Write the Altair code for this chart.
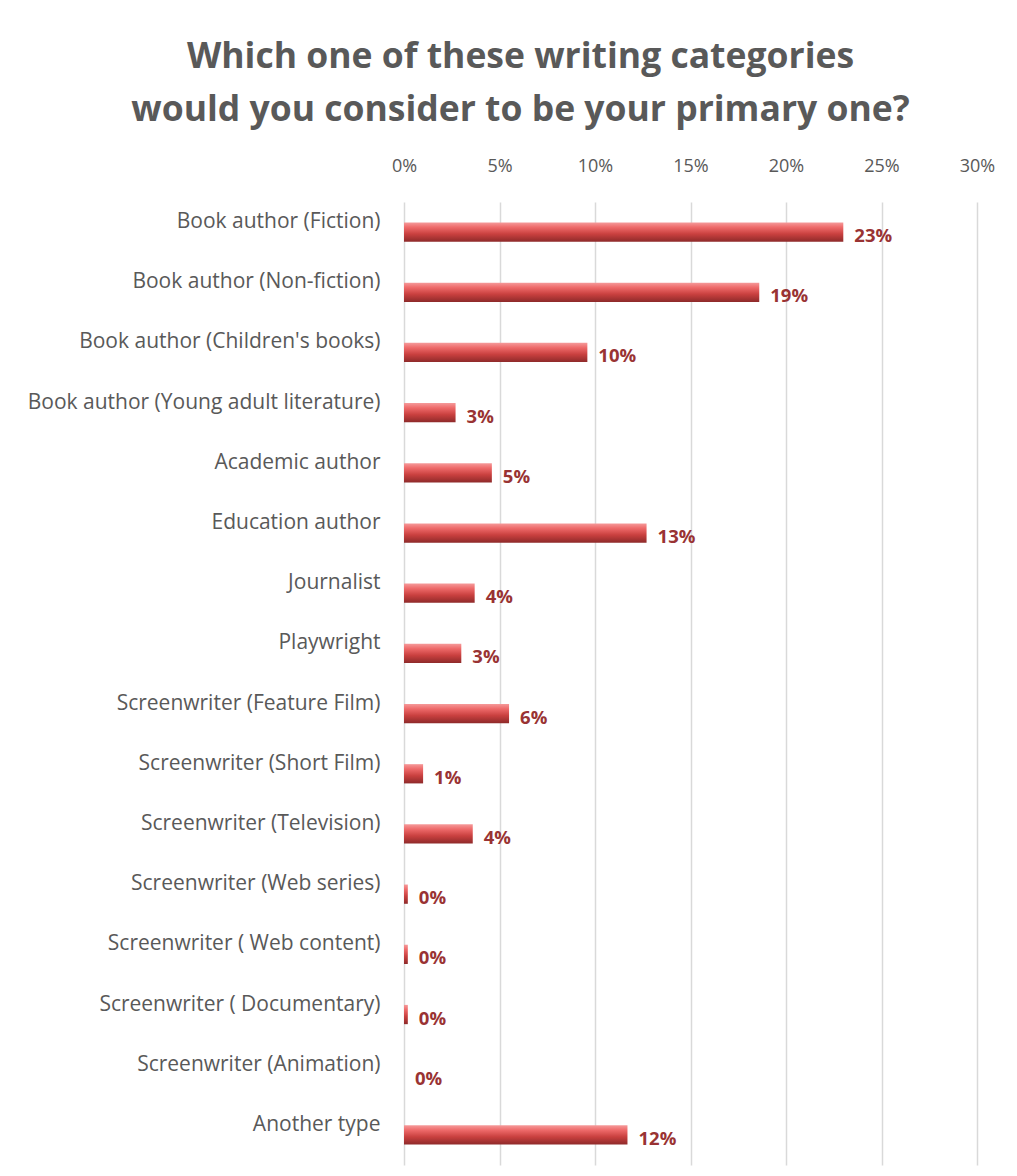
import altair as alt
import pandas as pd

categories = [
    "Book author (Fiction)",
    "Book author (Non-fiction)",
    "Book author (Children's books)",
    "Book author (Young adult literature)",
    "Academic author",
    "Education author",
    "Journalist",
    "Playwright",
    "Screenwriter (Feature Film)",
    "Screenwriter (Short Film)",
    "Screenwriter (Television)",
    "Screenwriter (Web series)",
    "Screenwriter ( Web content)",
    "Screenwriter ( Documentary)",
    "Screenwriter (Animation)",
    "Another type",
]
values = [0.230, 0.186, 0.096, 0.027, 0.046, 0.127, 0.037, 0.030,
          0.055, 0.010, 0.036, 0.002, 0.002, 0.002, 0.0, 0.117]
x_ticks = [0, 0.05, 0.10, 0.15, 0.20, 0.25, 0.30]

df = pd.DataFrame({"category": categories, "value": values})

FONT = "Open Sans"
GREY = "#595959"

x_enc = alt.X(
    "value:Q",
    scale=alt.Scale(domain=[0, 0.30], nice=False),
    axis=alt.Axis(
        orient="top", format=".0%", values=x_ticks, title=None,
        domain=False, ticks=False, labelPadding=27, labelFlush=False,
        labelFont=FONT, labelFontSize=18, labelColor=GREY,
        grid=True, gridColor="#d9d9d9", gridWidth=1.5,
    ),
)
y_enc = alt.Y(
    "category:N", sort=None, title=None,
    scale=alt.Scale(paddingInner=0.68, paddingOuter=0.34),
    axis=alt.Axis(
        domain=False, ticks=False, labelPadding=24, labelLimit=400,
        labelFont=FONT, labelFontSize=21, labelColor=GREY,
        labelOffset=-10,
    ),
)

bars = alt.Chart(df).mark_bar(
    fill={
        "gradient": "linear", "x1": 0, "y1": 0, "x2": 0, "y2": 1,
        "stops": [
            {"offset": 0.0, "color": "#f59a9a"},
            {"offset": 0.25, "color": "#ee6a6a"},
            {"offset": 0.6, "color": "#c9403f"},
            {"offset": 1.0, "color": "#8e2a2a"},
        ],
    },
).encode(x=x_enc, y=y_enc)

labels = alt.Chart(df).mark_text(
    align="left", baseline="middle", dx=11, dy=4,
    font=FONT, fontSize=18.5, fontWeight="bold", color="#993333",
).encode(
    x="value:Q",
    y=alt.Y("category:N", sort=None),
    text=alt.Text("value:Q", format=".0%"),
)

chart = alt.layer(bars, labels).properties(
    width=573,
    height=963,
    autosize=alt.AutoSizeParams(type="none"),
    padding={"left": 396, "top": 194, "right": 30, "bottom": 11},
    title=alt.TitleParams(
        text=["Which one of these writing categories",
              "would you consider to be your primary one?"],
        font=FONT, fontSize=35.5, fontWeight="bold", color=GREY,
        anchor="middle", dx=-170, offset=29, lineHeight=53,
    ),
).configure_view(stroke=None)

chart.save("out.html", embed_options={"renderer": "svg", "actions": False})
